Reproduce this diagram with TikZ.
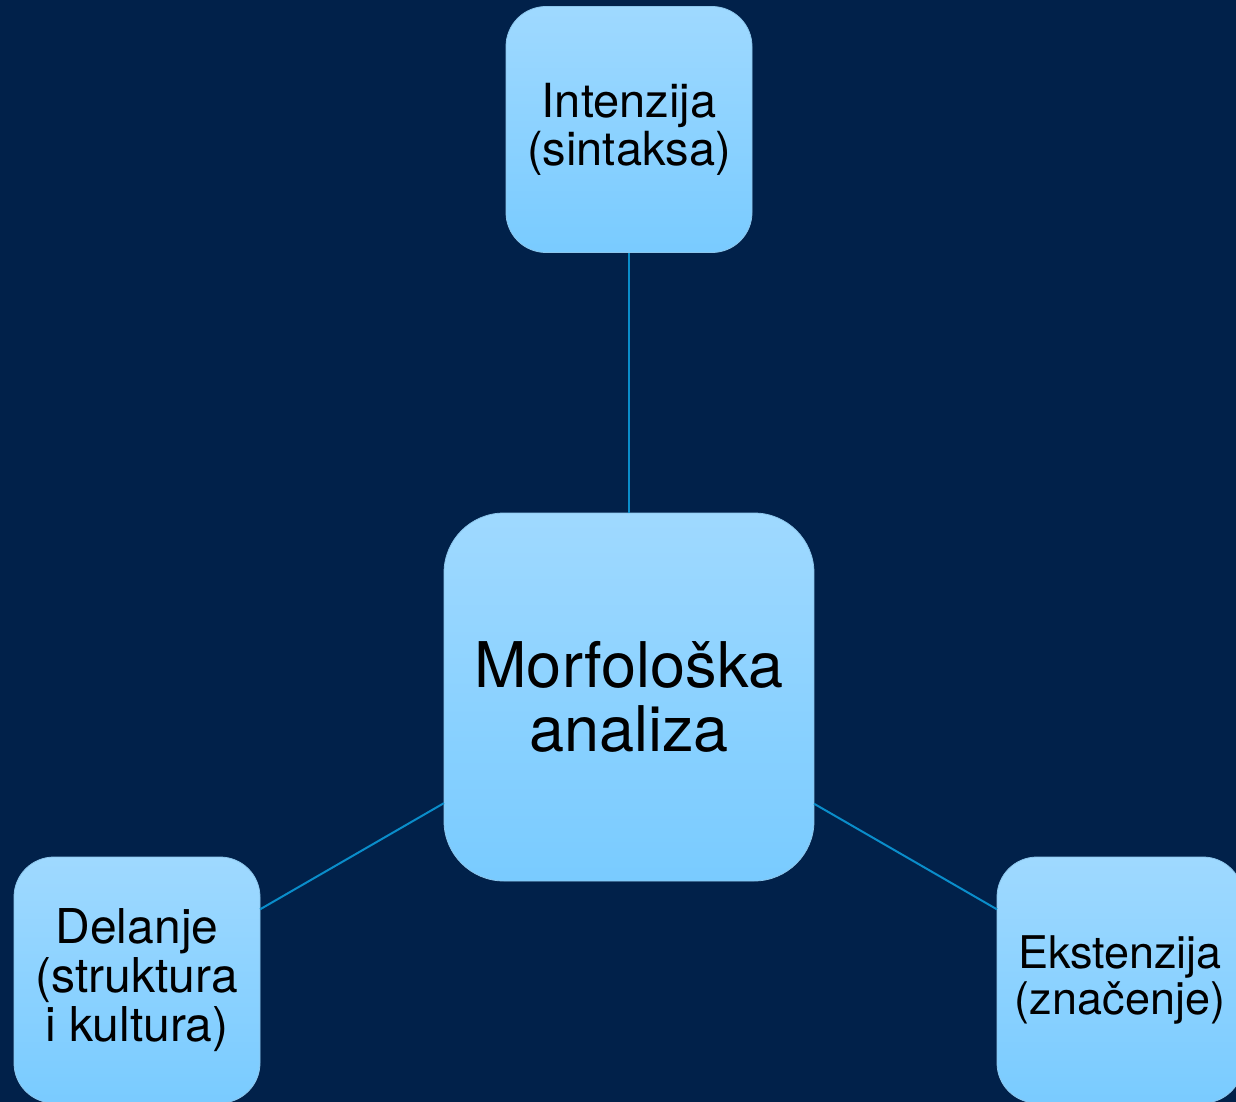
\documentclass[tikz,border=0pt]{standalone}
\usepackage{fontspec}
\setmainfont{TeX Gyre Heros}
\definecolor{bg}{HTML}{01214A}
\definecolor{boxtop}{HTML}{9FD9FF}
\definecolor{boxbot}{HTML}{79CBFF}
\definecolor{boxline}{HTML}{8CC6EC}
\definecolor{link}{HTML}{0A8DCA}
\tikzset{
  card/.style={rectangle, rounded corners=40pt, top color=boxtop, bottom color=boxbot,
    draw=boxline, line width=0.8pt, inner sep=0pt, outer sep=0pt,
    minimum width=246pt, minimum height=246pt, align=center,
    font=\fontsize{46}{48}\selectfont, text=black},
  bigcard/.style={card, rounded corners=60pt, minimum width=370pt, minimum height=368pt,
    font=\fontsize{63}{64}\selectfont},
  linkline/.style={draw=link, line width=2pt}
}
\begin{document}
\begin{tikzpicture}[x=1pt,y=-1pt]
\path[use as bounding box, fill=bg] (0,0) rectangle (1236,1102);
\clip (0,0) rectangle (1236,1102);
\node[bigcard] (center) at (629,697) {Morfološka\\analiza};
\node[card, font=\fontsize{47}{48}\selectfont] (top) at (629,129.5) {Intenzija\\(sintaksa)};
\node[card, font=\fontsize{48}{49}\selectfont] (left) at (137,980) {Delanje\\(struktura\\i kultura)};
\node[card, font=\fontsize{45}{46}\selectfont] (right) at (1120,980) {Ekstenzija\\(značenje)};
\draw[linkline] (center) -- (top);
\draw[linkline] (center) -- (left);
\draw[linkline] (center) -- (right);
\end{tikzpicture}
\end{document}
